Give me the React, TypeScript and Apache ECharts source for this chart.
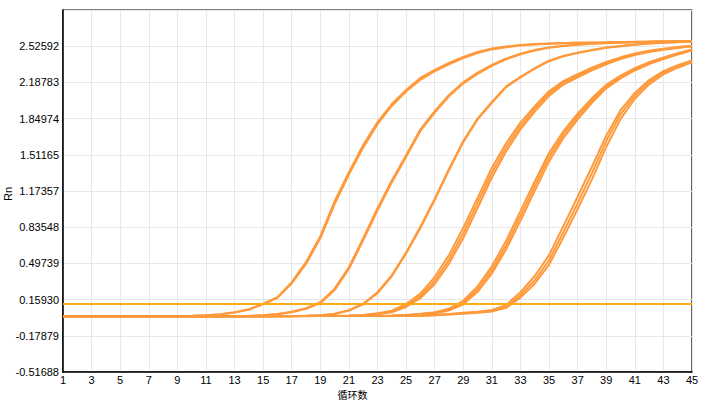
import React, { useEffect, useRef } from "react";
import * as echarts from "echarts";

const cycles = [
  "1", "2", "3", "4", "5", "6", "7", "8", "9", "10", "11", "12", "13", "14", "15",
  "16", "17", "18", "19", "20", "21", "22", "23", "24", "25", "26", "27", "28", "29", "30",
  "31", "32", "33", "34", "35", "36", "37", "38", "39", "40", "41", "42", "43", "44", "45",
];

const yTickLabels = [
  "-0.51688", "-0.17879", "0.15930", "0.49739", "0.83548",
  "1.17357", "1.51165", "1.84974", "2.18783", "2.52592",
];
const Y_MIN = -0.51688;
const Y_STEP = 0.338088;
const threshold = 0.122;

const curveA1 = [0.004, 0.004, 0.003, 0.004, 0.004, 0.004, 0.005, 0.005, 0.006, 0.008, 0.013, 0.022, 0.041, 0.069, 0.121, 0.182, 0.322, 0.509, 0.752, 1.079, 1.350, 1.603, 1.818, 1.986, 2.117, 2.229, 2.304, 2.369, 2.425, 2.472, 2.505, 2.524, 2.538, 2.547, 2.552, 2.556, 2.559, 2.561, 2.563, 2.566, 2.568, 2.569, 2.571, 2.573, 2.575];
const curveA2 = [0.003, 0.003, 0.004, 0.004, 0.003, 0.004, 0.004, 0.005, 0.005, 0.007, 0.012, 0.020, 0.038, 0.065, 0.115, 0.175, 0.310, 0.492, 0.731, 1.052, 1.328, 1.580, 1.798, 1.968, 2.102, 2.212, 2.292, 2.357, 2.414, 2.462, 2.496, 2.517, 2.532, 2.542, 2.548, 2.553, 2.557, 2.559, 2.561, 2.563, 2.565, 2.567, 2.569, 2.571, 2.573];
const curveB1 = [0.004, 0.004, 0.004, 0.003, 0.004, 0.004, 0.004, 0.004, 0.004, 0.005, 0.004, 0.005, 0.006, 0.008, 0.013, 0.025, 0.046, 0.079, 0.135, 0.262, 0.462, 0.733, 1.012, 1.272, 1.508, 1.750, 1.920, 2.070, 2.190, 2.280, 2.351, 2.411, 2.455, 2.490, 2.515, 2.531, 2.542, 2.550, 2.556, 2.560, 2.564, 2.567, 2.569, 2.571, 2.574];
const curveB2 = [0.003, 0.004, 0.004, 0.004, 0.004, 0.003, 0.004, 0.004, 0.004, 0.004, 0.005, 0.005, 0.006, 0.007, 0.012, 0.022, 0.042, 0.073, 0.126, 0.248, 0.445, 0.712, 0.992, 1.254, 1.492, 1.734, 1.905, 2.058, 2.178, 2.268, 2.342, 2.404, 2.450, 2.486, 2.511, 2.528, 2.540, 2.548, 2.554, 2.559, 2.563, 2.566, 2.568, 2.570, 2.572];
const curveC1 = [0.004, 0.004, 0.004, 0.004, 0.003, 0.004, 0.004, 0.004, 0.004, 0.004, 0.004, 0.004, 0.005, 0.005, 0.005, 0.006, 0.007, 0.009, 0.013, 0.027, 0.060, 0.121, 0.228, 0.387, 0.600, 0.840, 1.100, 1.380, 1.640, 1.850, 2.005, 2.150, 2.240, 2.320, 2.390, 2.435, 2.466, 2.491, 2.514, 2.528, 2.542, 2.552, 2.559, 2.564, 2.569];
const curveC2 = [0.004, 0.004, 0.004, 0.004, 0.004, 0.004, 0.004, 0.004, 0.004, 0.004, 0.004, 0.004, 0.005, 0.005, 0.005, 0.006, 0.007, 0.009, 0.012, 0.025, 0.057, 0.116, 0.220, 0.377, 0.590, 0.828, 1.088, 1.368, 1.630, 1.842, 1.998, 2.144, 2.235, 2.316, 2.386, 2.432, 2.463, 2.489, 2.512, 2.526, 2.540, 2.550, 2.558, 2.563, 2.568];
const curveD1 = [0.004, 0.004, 0.004, 0.004, 0.004, 0.004, 0.004, 0.004, 0.004, 0.004, 0.004, 0.004, 0.004, 0.005, 0.005, 0.005, 0.006, 0.006, 0.007, 0.008, 0.010, 0.016, 0.032, 0.055, 0.118, 0.215, 0.370, 0.575, 0.830, 1.110, 1.390, 1.620, 1.812, 1.965, 2.105, 2.200, 2.265, 2.325, 2.378, 2.422, 2.457, 2.484, 2.503, 2.518, 2.531];
const curveD2 = [0.004, 0.003, 0.004, 0.004, 0.004, 0.004, 0.004, 0.004, 0.004, 0.004, 0.004, 0.004, 0.004, 0.004, 0.005, 0.005, 0.005, 0.006, 0.006, 0.007, 0.009, 0.013, 0.027, 0.046, 0.102, 0.191, 0.335, 0.532, 0.780, 1.062, 1.345, 1.582, 1.780, 1.940, 2.085, 2.185, 2.250, 2.312, 2.368, 2.414, 2.450, 2.478, 2.498, 2.514, 2.528];
const curveD3 = [0.003, 0.004, 0.004, 0.004, 0.004, 0.004, 0.004, 0.004, 0.004, 0.004, 0.004, 0.004, 0.004, 0.004, 0.004, 0.005, 0.005, 0.005, 0.006, 0.006, 0.008, 0.011, 0.023, 0.040, 0.090, 0.172, 0.305, 0.495, 0.735, 1.015, 1.300, 1.545, 1.748, 1.915, 2.062, 2.168, 2.236, 2.300, 2.357, 2.405, 2.443, 2.472, 2.493, 2.510, 2.525];
const curveE1 = [0.004, 0.004, 0.004, 0.004, 0.004, 0.004, 0.004, 0.004, 0.004, 0.004, 0.004, 0.004, 0.004, 0.004, 0.004, 0.005, 0.005, 0.005, 0.005, 0.006, 0.006, 0.007, 0.008, 0.010, 0.015, 0.027, 0.041, 0.075, 0.148, 0.283, 0.470, 0.710, 0.985, 1.262, 1.528, 1.730, 1.895, 2.040, 2.165, 2.252, 2.320, 2.376, 2.420, 2.461, 2.495];
const curveE2 = [0.004, 0.004, 0.003, 0.004, 0.004, 0.004, 0.004, 0.004, 0.004, 0.004, 0.004, 0.004, 0.004, 0.004, 0.004, 0.004, 0.005, 0.005, 0.005, 0.005, 0.006, 0.006, 0.007, 0.009, 0.013, 0.023, 0.035, 0.065, 0.130, 0.256, 0.434, 0.668, 0.939, 1.219, 1.490, 1.700, 1.870, 2.020, 2.150, 2.240, 2.310, 2.368, 2.412, 2.455, 2.490];
const curveE3 = [0.003, 0.004, 0.004, 0.004, 0.004, 0.004, 0.004, 0.004, 0.004, 0.004, 0.004, 0.004, 0.004, 0.004, 0.004, 0.004, 0.004, 0.005, 0.005, 0.005, 0.005, 0.006, 0.006, 0.008, 0.012, 0.020, 0.030, 0.057, 0.115, 0.232, 0.402, 0.630, 0.895, 1.175, 1.450, 1.668, 1.843, 1.998, 2.132, 2.226, 2.299, 2.359, 2.405, 2.449, 2.485];
const curveF1 = [0.004, 0.004, 0.004, 0.004, 0.004, 0.004, 0.004, 0.004, 0.004, 0.004, 0.004, 0.004, 0.004, 0.004, 0.004, 0.004, 0.005, 0.005, 0.005, 0.005, 0.006, 0.006, 0.006, 0.007, 0.008, 0.010, 0.015, 0.026, 0.036, 0.046, 0.063, 0.108, 0.228, 0.380, 0.575, 0.845, 1.120, 1.400, 1.690, 1.928, 2.090, 2.210, 2.293, 2.348, 2.393];
const curveF2 = [0.004, 0.004, 0.004, 0.003, 0.004, 0.004, 0.004, 0.004, 0.004, 0.004, 0.004, 0.004, 0.004, 0.004, 0.004, 0.004, 0.004, 0.005, 0.005, 0.005, 0.005, 0.006, 0.006, 0.006, 0.007, 0.009, 0.013, 0.023, 0.032, 0.041, 0.055, 0.093, 0.200, 0.341, 0.527, 0.789, 1.060, 1.340, 1.640, 1.890, 2.065, 2.192, 2.280, 2.338, 2.385];
const curveF3 = [0.003, 0.004, 0.004, 0.004, 0.004, 0.004, 0.004, 0.004, 0.004, 0.004, 0.004, 0.004, 0.004, 0.004, 0.004, 0.004, 0.004, 0.004, 0.005, 0.005, 0.005, 0.005, 0.006, 0.006, 0.007, 0.008, 0.012, 0.020, 0.028, 0.037, 0.049, 0.082, 0.178, 0.308, 0.485, 0.738, 1.005, 1.282, 1.585, 1.845, 2.035, 2.170, 2.262, 2.325, 2.375];

const curves = [
  curveF1, curveF2, curveF3,
  curveE1, curveE2, curveE3,
  curveD1, curveD2, curveD3,
  curveC1, curveC2,
  curveB1, curveB2,
  curveA1, curveA2,
];

const CURVE_COLOR = "#FF9A3C";
const THRESHOLD_COLOR = "#FFAA12";
const LABEL_FONT = "Liberation Sans, Arial, sans-serif";

export default function App() {
  const ref = useRef<HTMLDivElement>(null);

  useEffect(() => {
    if (!ref.current) return;
    const chart = echarts.init(ref.current, null, { renderer: "svg" });
    const toUnits = (v: number) => (v - Y_MIN) / Y_STEP;

    const series: any[] = curves.map((c) => ({
      type: "line",
      data: c.map(toUnits),
      showSymbol: false,
      symbol: "none",
      silent: true,
      lineStyle: { color: CURVE_COLOR, width: 2 },
      itemStyle: { color: CURVE_COLOR },
      z: 2,
    }));
    series.push({
      type: "line",
      data: [],
      silent: true,
      z: 3,
      markLine: {
        silent: true,
        symbol: ["none", "none"],
        label: { show: false },
        lineStyle: { color: THRESHOLD_COLOR, width: 2, type: "solid" },
        data: [{ yAxis: toUnits(threshold) }],
      },
    });

    chart.setOption({
      animation: false,
      grid: {
        left: 63,
        right: 13,
        top: 10,
        bottom: 28,
        show: true,
        borderColor: "#000",
        borderWidth: 1.2,
        backgroundColor: "#fff",
      },
      xAxis: {
        type: "category",
        data: cycles,
        boundaryGap: false,
        axisLine: { show: true, lineStyle: { color: "#000", width: 1.5 } },
        axisTick: { show: false },
        axisLabel: {
          interval: 1,
          color: "#000",
          fontSize: 11,
          lineHeight: 10,
          fontFamily: LABEL_FONT,
          margin: 3,
        },
        splitLine: { show: true, interval: 1, lineStyle: { color: "#e8e8e8", width: 1 } },
      },
      yAxis: {
        type: "value",
        min: 0,
        max: 10,
        interval: 1,
        axisLine: { show: true, lineStyle: { color: "#000", width: 1.5 } },
        axisTick: { show: false },
        axisLabel: {
          color: "#000",
          fontSize: 11,
          fontFamily: LABEL_FONT,
          margin: 4,
          formatter: (v: number) => {
            const i = Math.round(v);
            return i < yTickLabels.length ? yTickLabels[i] : "";
          },
        },
        splitLine: { show: true, lineStyle: { color: "#e8e8e8", width: 1 } },
      },
      graphic: [
        {
          type: "text",
          x: 352.5,
          y: 394,
          style: {
            text: "循环数",
            fill: "#000",
            fontSize: 10,
            lineHeight: 10,
            fontFamily: "Noto Sans CJK SC, sans-serif",
            align: "center",
            verticalAlign: "middle",
          },
        },
        {
          type: "text",
          x: 8,
          y: 194,
          rotation: Math.PI / 2,
          style: {
            text: "Rn",
            fill: "#000",
            fontSize: 11,
            fontFamily: LABEL_FONT,
            align: "center",
            verticalAlign: "middle",
          },
        },
      ],
      series,
    });

    return () => chart.dispose();
  }, []);

  return (
    <div
      ref={ref}
      style={{ position: "absolute", left: 0, top: 0, width: 705, height: 400, background: "#fff" }}
    />
  );
}
